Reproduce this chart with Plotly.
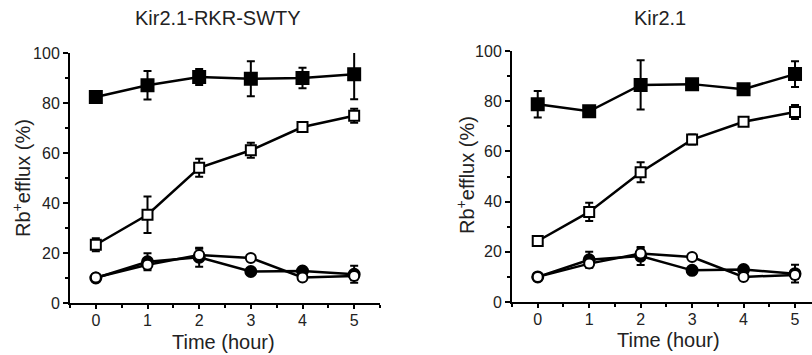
import plotly.graph_objects as go

# ---------------- data ----------------
hours = [0, 1, 2, 3, 4, 5]
x_tick_vals = [0, 1, 2, 3, 4, 5]
y_tick_vals = [0, 20, 40, 60, 80, 100]

panel_titles = ["Kir2.1-RKR-SWTY", "Kir2.1"]

# Kir2.1-RKR-SWTY panel
a_filled_sq = [82.4, 87.1, 90.4, 89.7, 90.0, 91.5]
a_filled_sq_err = [1.0, 5.7, 3.2, 7.0, 4.1, 10.0]
a_open_sq = [23.3, 35.3, 54.1, 61.1, 70.4, 74.9]
a_open_sq_err = [2.6, 7.3, 3.6, 3.0, 1.0, 2.8]
a_filled_ci = [10.0, 16.5, 18.3, 12.6, 12.8, 11.5]
a_filled_ci_err = [0.8, 3.4, 3.8, 1.0, 1.0, 3.4]
a_open_ci = [10.2, 15.3, 19.2, 18.0, 10.2, 10.8]
a_open_ci_err = [0.8, 1.5, 2.5, 1.0, 1.0, 1.5]

# Kir2.1 panel
b_filled_sq = [78.8, 76.0, 86.5, 86.8, 84.8, 90.8]
b_filled_sq_err = [5.3, 1.0, 9.8, 1.0, 1.0, 5.1]
b_open_sq = [24.3, 35.9, 51.7, 64.7, 71.8, 75.7]
b_open_sq_err = [2.0, 3.6, 4.0, 2.0, 1.5, 2.8]
b_filled_ci = [10.0, 16.8, 18.3, 12.6, 12.9, 11.3]
b_filled_ci_err = [0.8, 3.2, 3.6, 1.0, 1.0, 3.5]
b_open_ci = [10.0, 15.3, 19.3, 17.9, 10.0, 10.8]
b_open_ci_err = [0.8, 1.5, 2.0, 1.0, 1.0, 1.5]

FONT = "Liberation Sans, Arial, sans-serif"

fig = go.Figure()


def add_series(y, err, symbol, filled, size, xa, ya):
    fig.add_trace(go.Scatter(
        x=hours, y=y, mode="lines+markers",
        xaxis=xa, yaxis=ya, showlegend=False, cliponaxis=False,
        line=dict(color="black", width=2.5),
        marker=dict(symbol=symbol, size=size,
                    color="black" if filled else "white",
                    line=dict(color="black", width=2)),
        error_y=dict(type="data", array=err, visible=True,
                     color="black", thickness=2, width=4),
    ))


for (fs, fse, os_, ose, fc, fce, oc, oce, xa, ya) in [
    (a_filled_sq, a_filled_sq_err, a_open_sq, a_open_sq_err,
     a_filled_ci, a_filled_ci_err, a_open_ci, a_open_ci_err, "x", "y"),
    (b_filled_sq, b_filled_sq_err, b_open_sq, b_open_sq_err,
     b_filled_ci, b_filled_ci_err, b_open_ci, b_open_ci_err, "x2", "y2"),
]:
    add_series(fc, fce, "circle", True, 11, xa, ya)
    add_series(oc, oce, "circle", False, 10, xa, ya)
    add_series(os_, ose, "square", False, 10, xa, ya)
    add_series(fs, fse, "square", True, 12, xa, ya)


def xaxis(domain, rng, anchor):
    return dict(domain=domain, range=rng, anchor=anchor,
                showline=True, linecolor="black", linewidth=2,
                ticks="outside", ticklen=4, tickwidth=2, tickcolor="black",
                ticklabelstandoff=-2,
                tickmode="array", tickvals=x_tick_vals,
                minor=dict(ticks="outside", ticklen=3, tickwidth=2,
                           tickcolor="black", dtick=0.5, tick0=0.5),
                showgrid=False, zeroline=False,
                tickfont=dict(family=FONT, size=16, color="#222"))


def yaxis(domain, anchor):
    return dict(domain=domain, range=[0, 100], anchor=anchor,
                showline=True, linecolor="black", linewidth=2,
                ticks="outside", ticklen=5, tickwidth=2, tickcolor="black",
                tickmode="array", tickvals=y_tick_vals,
                minor=dict(ticks="outside", ticklen=3, tickwidth=2,
                           tickcolor="black", dtick=10, tick0=10),
                showgrid=False, zeroline=False,
                tickfont=dict(family=FONT, size=16, color="#222"))


W, H = 812, 355

fig.update_layout(
    width=W, height=H,
    margin=dict(l=0, r=0, t=0, b=0, autoexpand=False),
    paper_bgcolor="white", plot_bgcolor="white",
    xaxis=xaxis([70 / W, 380 / W], [-0.5, 5.5], "y"),
    yaxis=yaxis([(H - 303) / H, (H - 53) / H], "x"),
    xaxis2=xaxis([512 / W, 1.0], [-0.5, 5.33], "y2"),
    yaxis2=yaxis([(H - 302) / H, (H - 51) / H], "x2"),
)

title_font = dict(family=FONT, size=20, color="#222")
axis_font = dict(family=FONT, size=20, color="#222")
annotations = [
    dict(text=panel_titles[0], x=218 / W, y=1 - 18 / H, font=title_font),
    dict(text=panel_titles[1], x=660 / W, y=1 - 18 / H, font=title_font),
    dict(text="Time (hour)", x=223 / W, y=1 - 342 / H, font=axis_font),
    dict(text="Time (hour)", x=668 / W, y=1 - 340 / H, font=axis_font),
    dict(text="Rb<sup>+</sup>efflux (%)", x=21 / W, y=1 - 178 / H,
         textangle=-90, font=axis_font),
    dict(text="Rb<sup>+</sup>efflux (%)", x=465 / W, y=1 - 175 / H,
         textangle=-90, font=axis_font),
]
for a in annotations:
    a.update(xref="paper", yref="paper", showarrow=False,
             xanchor="center", yanchor="middle")
fig.update_layout(annotations=annotations)

fig.write_html(
    "out.html",
    config={"displayModeBar": False},
    post_script="document.body.style.margin='0';"
                "document.body.style.overflow='hidden';",
)
